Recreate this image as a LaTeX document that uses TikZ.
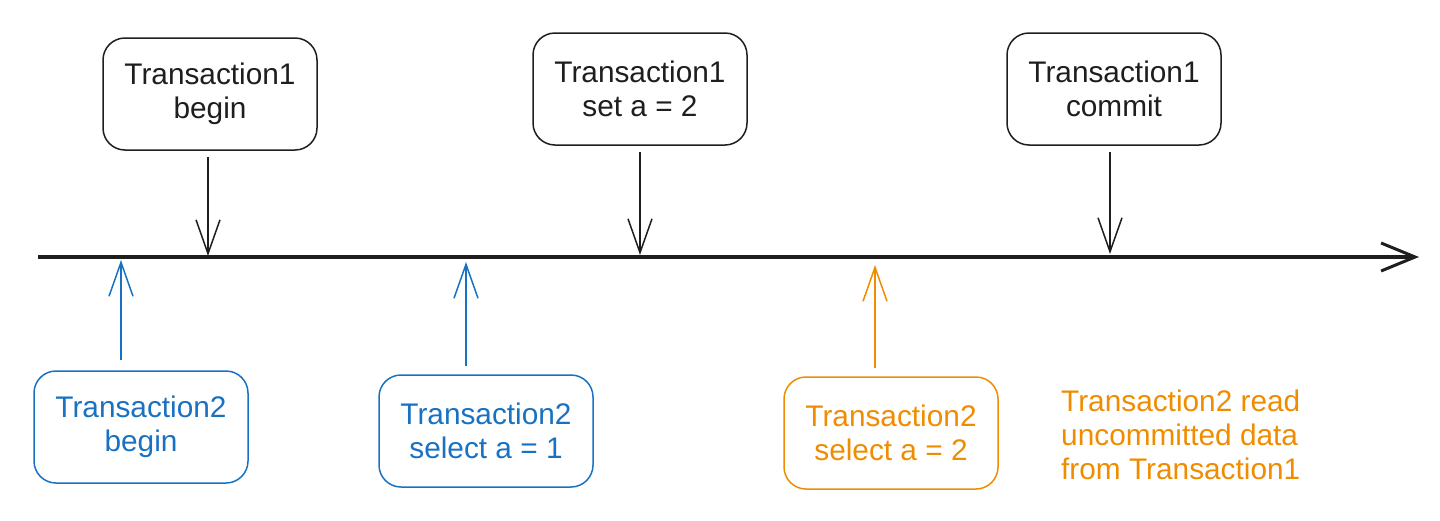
\documentclass[tikz,border=0pt]{standalone}
\usepackage{fontspec}
\setmainfont{Liberation Sans}
\usetikzlibrary{arrows.meta}
\definecolor{ink}{HTML}{1E1E1E}
\definecolor{tblue}{HTML}{1971C2}
\definecolor{torange}{HTML}{F08C00}
\begin{document}
\begin{tikzpicture}[x=1pt,y=-1pt,
  evbox/.style={draw, line width=1.5pt, rounded corners=22pt, minimum width=214pt, minimum height=112pt, align=center, font=\fontsize{29.8}{34}\selectfont, inner sep=0pt},
  evarrow/.style={line width=1.5pt, -{Straight Barb[length=34pt,width=24pt]}}
]
\useasboundingbox (0,0) rectangle (1440,520);
% timeline
\coordinate (tl0) at (38,257);
\coordinate (tl1) at (1419,257);
\draw[ink, line width=4pt, -{Straight Barb[length=34pt,width=28pt,line width=3pt]}] (tl0) -- (tl1);
% Transaction1 boxes
\node[evbox, ink, text=ink] (b1) at (210,94) {Transaction1\\begin};
\node[evbox, ink, text=ink] (b2) at (640,89) {Transaction1\\set a = 2};
\node[evbox, ink, text=ink] (b3) at (1114,89) {Transaction1\\commit};
\coordinate (p1) at (208,256);
\coordinate (p2) at (640,255);
\coordinate (p3) at (1110,254);
\draw[evarrow, ink] (b1.south -| p1) ++(0,6) -- (p1);
\draw[evarrow, ink] (b2.south -| p2) ++(0,6) -- (p2);
\draw[evarrow, ink] (b3.south -| p3) ++(0,6) -- (p3);
% Transaction2 boxes
\node[evbox, tblue, text=tblue] (c1) at (141,427) {Transaction2\\begin};
\node[evbox, tblue, text=tblue] (c2) at (486,431) {Transaction2\\select a = 1};
\node[evbox, torange, text=torange] (c3) at (891,433) {Transaction2\\select a = 2};
\coordinate (q1) at (121,260);
\coordinate (q2) at (466,262);
\coordinate (q3) at (875,265);
\draw[evarrow, tblue] (c1.north -| q1) ++(0,-10) -- (q1);
\draw[evarrow, tblue] (c2.north -| q2) ++(0,-8) -- (q2);
\draw[evarrow, torange] (c3.north -| q3) ++(0,-8) -- (q3);
% note
\node[anchor=west, align=left, text=torange, font=\fontsize{29.8}{34}\selectfont, inner sep=0pt] (note) at (1061,435) {Transaction2 read\\uncommitted data\\from Transaction1};
\end{tikzpicture}
\end{document}
